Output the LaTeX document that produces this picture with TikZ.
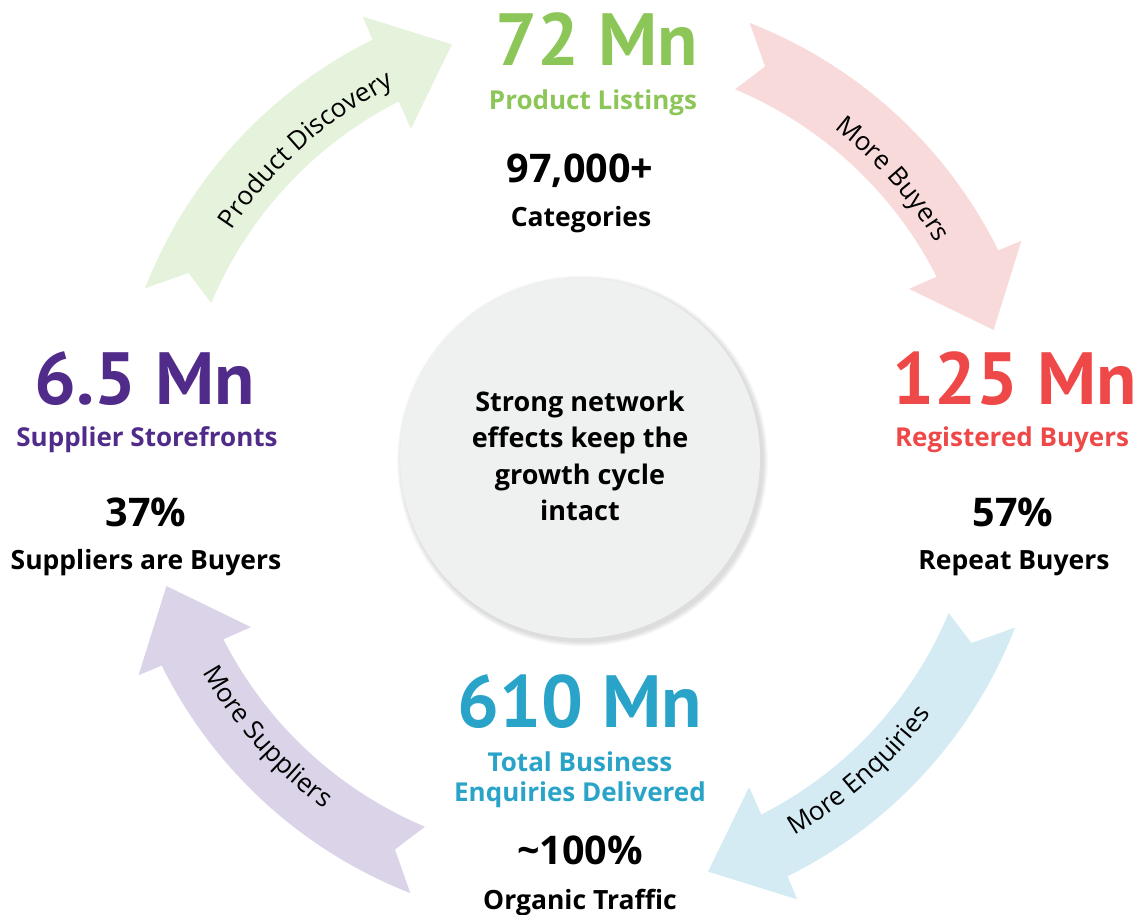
\documentclass[tikz,border=0pt]{standalone}
\usepackage{fontspec}
\setmainfont{Open Sans}
\newfontfamily\arrowfont{Open Sans}
\newfontfamily\bigfont{PT Sans}
\usetikzlibrary{decorations.text}
\definecolor{cgreen}{RGB}{141,198,88}
\definecolor{cred}{RGB}{239,72,72}
\definecolor{cpurple}{RGB}{80,43,138}
\definecolor{cblue}{RGB}{41,163,199}
\definecolor{fgreen}{RGB}{230,243,220}
\definecolor{fred}{RGB}{249,218,218}
\definecolor{fblue}{RGB}{212,235,243}
\definecolor{fpurple}{RGB}{219,212,232}
\definecolor{fcircle}{RGB}{239,240,240}
\begin{document}
\begin{tikzpicture}[x=1pt,y=1pt,
  big/.style={font=\bigfont\bfseries\fontsize{74}{74}\selectfont, anchor=base, inner sep=0pt},
  sub/.style={font=\bfseries\fontsize{26}{30}\selectfont, anchor=base, inner sep=0pt},
  num/.style={font=\bfseries\fontsize{39.5}{40}\selectfont, anchor=base, inner sep=0pt},
  lab/.style={font=\bfseries\fontsize{26.5}{30}\selectfont, anchor=base, inner sep=0pt},
  arrowbody/.style={draw=none}]
\useasboundingbox (0,0) rectangle (1140,915);
\coordinate (C) at (580,457);
% cycle arrows
\begin{scope}[shift={(C)}]
\foreach \t/\c in {107.2/fgreen, 17.2/fred, -72.8/fblue, 197.2/fpurple}{
  \fill[\c,arrowbody] ({\t+51.5}:467pt) arc[start angle={\t+51.5}, end angle={\t+9.2}, radius=467pt]
    -- ({\t+9}:492pt) -- (\t:433pt) -- ({\t+10}:370pt) -- ({\t+9.75}:400pt)
    arc[start angle={\t+9.75}, end angle={\t+50}, radius=400pt]
    -- ({\t+47.5}:433pt) -- cycle;
}
% arrow labels
\path[decorate, decoration={text along path, text align=center,
  text={|\arrowfont\fontsize{26}{26}\selectfont|Product Discovery}}]
  (156.2:416pt) arc[start angle=156.2, end angle=107.2, radius=416pt];
\path[decorate, decoration={text along path, text align=center,
  text={|\arrowfont\fontsize{26}{26}\selectfont|More Buyers}}]
  (66.2:416pt) arc[start angle=66.2, end angle=17.2, radius=416pt];
\path[decorate, decoration={text along path, text align=center,
  text={|\arrowfont\fontsize{26}{26}\selectfont|More Enquiries}}]
  (-72.8:434pt) arc[start angle=-72.8, end angle=-23.8, radius=434pt];
\path[decorate, decoration={text along path, text align=center,
  text={|\arrowfont\fontsize{26}{26}\selectfont|More Suppliers}}]
  (197.2:434pt) arc[start angle=197.2, end angle=246.2, radius=434pt];
% centre circle with soft shadow
\foreach \i in {1,...,6}{
  \fill[black, opacity=0.025] (2.5,-3) circle[radius={180pt+\i*0.9pt}];
}
\fill[fcircle] (0,0) circle[radius=180pt];
\end{scope}
\node[font=\bfseries\fontsize{27}{36.5}\selectfont, align=center, inner sep=0pt] (hub) at (580,459)
  {Strong network\\effects keep the\\growth cycle\\intact};
% top: product listings
\node[big, text=cgreen] (listN) at (597,849) {72 Mn};
\node[sub, text=cgreen] (listL) at (593,805) {Product Listings};
\node[num] (catN) at (580,732) {97,000+};
\node[lab] (catL) at (581,688) {Categories};
% right: buyers
\node[big, text=cred] (buyN) at (1015,510) {125 Mn};
\node[sub, text=cred] (buyL) at (1012,468) {Registered Buyers};
\node[num] (repN) at (1013,388) {57\%};
\node[lab] (repL) at (1014,345) {Repeat Buyers};
% left: suppliers
\node[big, text=cpurple] (supN) at (145,510) {6.5 Mn};
\node[sub, text=cpurple] (supL) at (147,468) {Supplier Storefronts};
\node[num] (sbN) at (146,388) {37\%};
\node[lab] (sbL) at (146,345) {Suppliers are Buyers};
% bottom: enquiries
\node[big, text=cblue] (enqN) at (580,187) {610 Mn};
\node[sub, text=cblue] (enqL1) at (580,143) {Total Business};
\node[sub, text=cblue] (enqL2) at (580,113) {Enquiries Delivered};
\node[num] (orgN) at (580,50) {\textasciitilde 100\%};
\node[lab] (orgL) at (580,5) {Organic Traffic};
\end{tikzpicture}
\end{document}
